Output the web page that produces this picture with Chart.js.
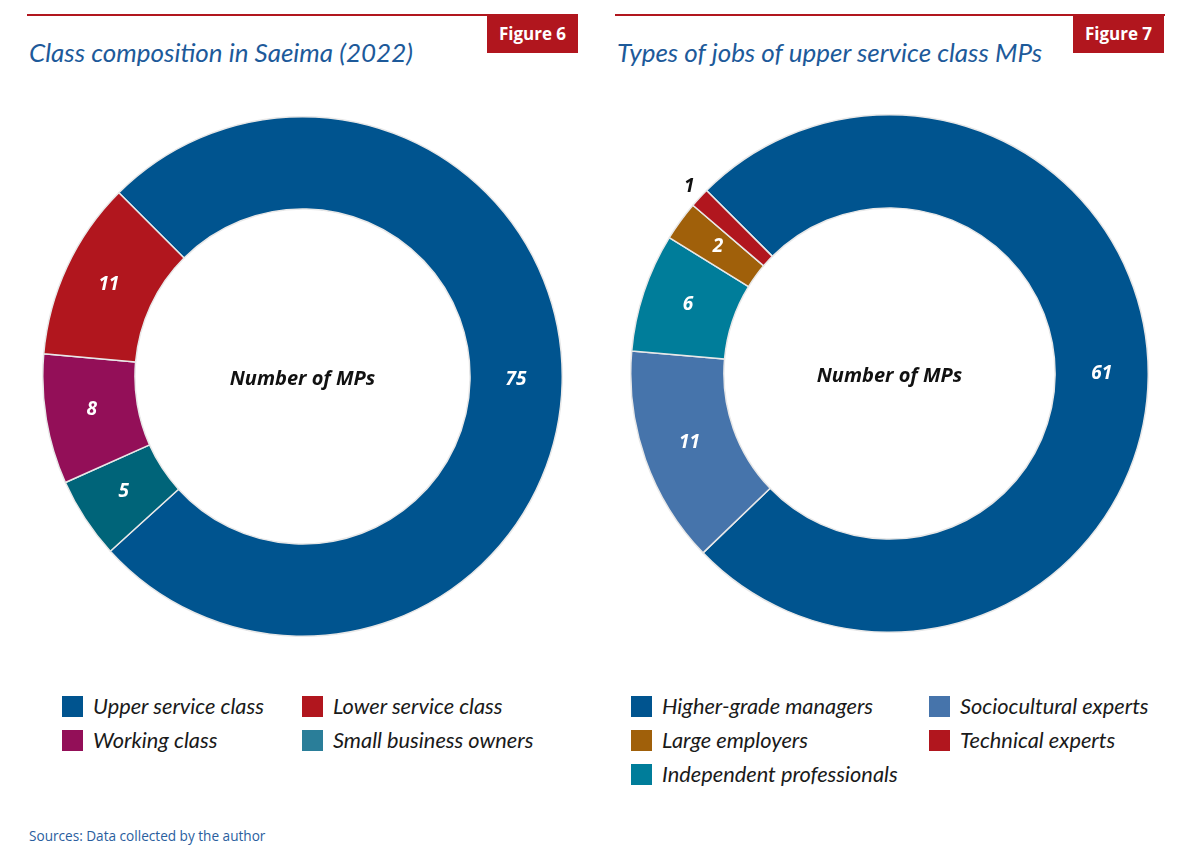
<!DOCTYPE html>
<html>
<head>
<meta charset="utf-8">
<script src="https://cdn.jsdelivr.net/npm/chart.js@4"></script>
<style>
  body { margin: 0; width: 1200px; height: 852px; background: #fff; position: relative; font-family: Lato, "Open Sans", sans-serif; overflow: hidden; }
  .rule { position: absolute; top: 14px; height: 2px; background: #b1161e; }
  .fig { position: absolute; top: 15px; height: 38px; width: 91px; background: #b1161e; color: #fff; font: bold 17px "Open Sans", sans-serif; text-align: center; line-height: 38px; }
  .title { position: absolute; top: 36px; font: italic 26px Lato, sans-serif; color: #1d5a9a; white-space: nowrap; }
  .box { position: absolute; }
  .legend { position: absolute; font: italic 21.8px Lato, sans-serif; color: #1a1a1a; }
  .item { position: absolute; white-space: nowrap; height: 24px; line-height: 24px; }
  .sw { position: absolute; left: 0; top: 1px; width: 21px; height: 21px; }
  .item span { position: absolute; left: 31px; top: -1px; }
  .src { position: absolute; left: 29px; top: 826px; font: 13.6px "Open Sans", sans-serif; color: #2a5e9e; }
</style>
</head>
<body>
<div class="rule" style="left:27px;width:551px"></div>
<div class="fig" style="left:487px">Figure 6</div>
<div class="title" style="left:29px">Class composition in Saeima (2022)</div>

<div class="rule" style="left:615px;width:550px"></div>
<div class="fig" style="left:1073px">Figure 7</div>
<div class="title" style="left:617px">Types of jobs of upper service class MPs</div>

<div class="box" style="left:42px;top:116px;width:521px;height:521px"><canvas id="c1"></canvas></div>
<div class="box" style="left:630px;top:114px;width:519px;height:519px"><canvas id="c2"></canvas></div>

<div class="legend" id="lg1"></div>
<div class="legend" id="lg2"></div>

<div class="src">Sources: Data collected by the author</div>

<script>
// Figure 6
const classLabels = ['Upper service class', 'Small business owners', 'Working class', 'Lower service class'];
const classValues = [75, 5, 8, 11];
const classColors = ['#00548f', '#006479', '#930f58', '#b1161e'];
const classLegendColors = ['#00548f', '#2a7e99', '#930f58', '#b1161e'];

// Figure 7
const jobLabels = ['Higher-grade managers', 'Sociocultural experts', 'Independent professionals', 'Large employers', 'Technical experts'];
const jobValues = [61, 11, 6, 2, 1];
const jobColors = ['#00548f', '#4674ab', '#007d9a', '#a0600a', '#b1161e'];

// etiquetas dentro de los segmentos + texto central
const labelPlugin = {
    id: 'sliceLabels',
    afterDatasetsDraw(chart) {
        const ctx = chart.ctx;
        const meta = chart.getDatasetMeta(0);
        const values = chart.data.datasets[0].data;
        ctx.save();
        ctx.textAlign = 'center';
        ctx.textBaseline = 'middle';
        meta.data.forEach((arc, i) => {
            const p = arc.getProps(['x', 'y', 'startAngle', 'endAngle', 'innerRadius', 'outerRadius'], true);
            const mid = (p.startAngle + p.endAngle) / 2;
            let r = (p.innerRadius + p.outerRadius) / 2;
            ctx.fillStyle = '#fff';
            if (values[i] === 1) {   // muy pequeño: etiqueta fuera
                r = p.outerRadius + 14;
                ctx.fillStyle = '#111';
            }
            ctx.font = 'italic bold 19px "Open Sans", sans-serif';
            ctx.fillText(values[i], p.x + Math.cos(mid) * r, p.y + Math.sin(mid) * r - 2);
        });
        const c = meta.data[0];
        ctx.fillStyle = '#111';
        ctx.font = 'italic bold 20px "Open Sans", sans-serif';
        ctx.fillText('Number of MPs', c.x, c.y + 3);
        ctx.restore();
    }
};

function makeDonut(id, labels, values, colors, cutout) {
    new Chart(document.getElementById(id), {
        type: 'doughnut',
        data: {
            labels: labels,
            datasets: [{
                data: values,
                backgroundColor: colors,
                borderColor: '#e8e8e8',
                borderWidth: 1.5
            }]
        },
        options: {
            responsive: true,
            maintainAspectRatio: false,
            animation: false,
            rotation: -45,
            cutout: cutout,
            plugins: {
                legend: { display: false },
                tooltip: { enabled: false }
            }
        },
        plugins: [labelPlugin]
    });
}

makeDonut('c1', classLabels, classValues, classColors, '64.5%');
makeDonut('c2', jobLabels, jobValues, jobColors, '64%');

// leyendas en HTML
function buildLegend(id, items, left, cols) {
    const lg = document.getElementById(id);
    items.forEach(it => {
        const d = document.createElement('div');
        d.className = 'item';
        d.style.left = (left + cols[it.col]) + 'px';
        d.style.top = it.top + 'px';
        d.innerHTML = `<div class="sw" style="background:${it.color}"></div><span>${it.label}</span>`;
        lg.appendChild(d);
    });
}

buildLegend('lg1', [
    { label: classLabels[0], color: classLegendColors[0], col: 0, top: 695 },
    { label: classLabels[3], color: classLegendColors[3], col: 1, top: 695 },
    { label: classLabels[2], color: classLegendColors[2], col: 0, top: 729 },
    { label: classLabels[1], color: classLegendColors[1], col: 1, top: 729 }
], 62, [0, 240]);

buildLegend('lg2', [
    { label: jobLabels[0], color: jobColors[0], col: 0, top: 695 },
    { label: jobLabels[1], color: jobColors[1], col: 1, top: 695 },
    { label: jobLabels[3], color: jobColors[3], col: 0, top: 729 },
    { label: jobLabels[4], color: jobColors[4], col: 1, top: 729 },
    { label: jobLabels[2], color: jobColors[2], col: 0, top: 763 }
], 631, [0, 298]);
</script>
</body>
</html>
